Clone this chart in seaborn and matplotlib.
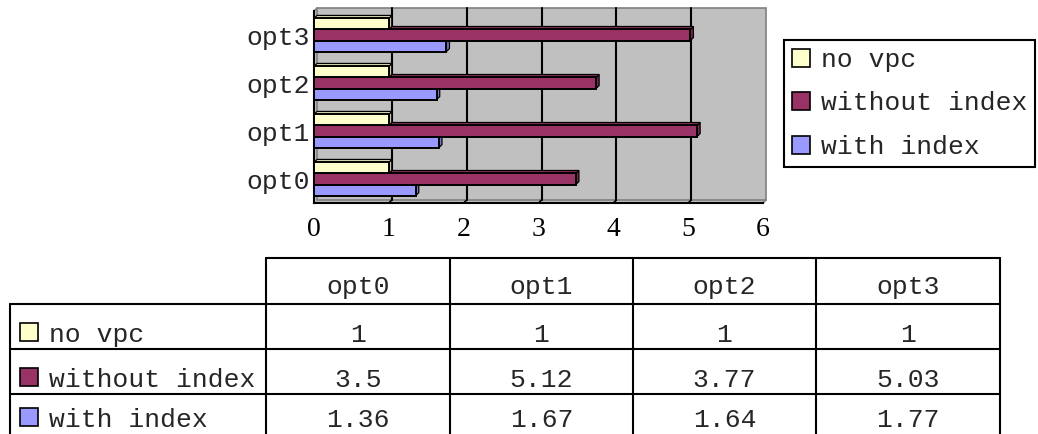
import numpy as np
import pandas as pd
import matplotlib
matplotlib.use("Agg")
import matplotlib.pyplot as plt
import matplotlib.transforms as mtransforms
from matplotlib.patches import Polygon, Patch, Rectangle
from matplotlib.lines import Line2D
import seaborn as sns

# ---- data -------------------------------------------------------------
options = ["opt0", "opt1", "opt2", "opt3"]
series_names = ["no vpc", "without index", "with index"]
no_vpc = [1, 1, 1, 1]
without_index = [3.5, 5.12, 3.77, 5.03]
with_index = [1.36, 1.67, 1.64, 1.77]
x_ticks = [0, 1, 2, 3, 4, 5, 6]

series_values = [no_vpc, without_index, with_index]
series_colors = ["#FFFFCC", "#993366", "#9999FF"]

df = pd.DataFrame({
    "option": options * len(series_names),
    "series": [s for s in series_names for _ in options],
    "value": [v for vals in series_values for v in vals],
})

# ---- style ------------------------------------------------------------
sns.set_style("white")
plt.rcParams["font.family"] = ["Liberation Mono", "DejaVu Sans"]
FONT = 19

W, H = 1038, 434
fig = plt.figure(figsize=(W / 100, H / 100), dpi=100)
ident = mtransforms.IdentityTransform()


def fxy(x, y_top):
    """pixel position measured from the top-left -> figure fraction"""
    return x / W, 1 - y_top / H


# front plane of the 3-D plot box (pixels from top-left)
L, R, TOP, BOT = 314, 763, 11, 203
D = 3  # depth offset in pixels
ax = fig.add_axes([L / W, 1 - BOT / H, (R - L) / W, (BOT - TOP) / H])

sns.barplot(data=df, x="value", y="option", hue="series",
            order=options[::-1], hue_order=series_names,
            palette=series_colors, orient="h", width=0.69, saturation=1,
            edgecolor="black", linewidth=1.4, errorbar=None,
            legend=False, ax=ax)

ax.set_xlim(x_ticks[0], x_ticks[-1])
ax.set_ylim(len(options) - 0.5, -0.5)
ax.set_xlabel("")
ax.set_ylabel("")
ax.patch.set_visible(False)
for side in ("top", "right"):
    ax.spines[side].set_visible(False)
for side in ("left", "bottom"):
    ax.spines[side].set_color("black")
    ax.spines[side].set_linewidth(1.5)
ax.set_xticks(x_ticks)
ax.set_xticklabels([str(t) for t in x_ticks], family="Liberation Serif",
                   fontsize=20)
ax.tick_params(axis="x", direction="out", length=4, width=1.2,
               pad=6, colors="black")
ax.tick_params(axis="y", which="major", length=0, pad=3, labelsize=FONT)
ax.set_yticks(np.arange(-0.5, len(options), 1.0), minor=True)
ax.tick_params(axis="y", which="minor", direction="in", length=3, width=1.2)

# ---- walls of the 3-D box (display pixels, origin bottom-left) -------
Ld, Rd, Td, Bd = L, R, H - TOP, H - BOT
wall = Polygon([(Ld, Bd), (Ld, Td), (Ld + D, Td + D), (Rd + D, Td + D),
                (Rd + D, Bd + D), (Rd, Bd)], closed=True,
               facecolor="#C0C0C0", edgecolor="none", transform=ident,
               zorder=-3)
fig.add_artist(wall)
fig.add_artist(Rectangle((Ld + D, Bd + D), Rd - Ld, Td - Bd, fill=False,
                         edgecolor="#808080", linewidth=1.2,
                         transform=ident, zorder=-2))
for (x0, y0) in [(Ld, Td), (Rd, Bd)]:
    fig.add_artist(Line2D([x0, x0 + D], [y0, y0 + D], color="#808080",
                          linewidth=1.2, transform=ident, zorder=-2))

# gridlines on the back wall and their trace across the floor
for t in x_ticks[1:-1]:
    xp = ax.transData.transform((t, 0))[0]
    fig.add_artist(Line2D([xp + D, xp + D], [Bd + D, Td + D], color="black",
                          linewidth=1.5, transform=ident, zorder=-1))
    fig.add_artist(Line2D([xp, xp + D], [Bd, Bd + D], color="black",
                          linewidth=1.2, transform=ident, zorder=-1))


# ---- 3-D side and top faces of every bar ------------------------------
def shade(rgb, f):
    return tuple(np.array(rgb) * f)


bars = list(ax.patches)
geom = []
for p in bars:
    (x0, y0), (x1, y1) = ax.transData.transform(
        [(p.get_x(), p.get_y()), (p.get_x() + p.get_width(),
                                  p.get_y() + p.get_height())])
    geom.append((p, min(x0, x1), max(x0, x1), min(y0, y1), max(y0, y1)))
# lower bars first so the bar above hides their top faces
geom.sort(key=lambda g: g[3])
for k, (p, l, r, b, t) in enumerate(geom):
    z = 3 + 0.01 * k
    fc = p.get_facecolor()[:3]
    p.set_zorder(z)
    right_face = Polygon([(r, b), (r + D, b + D), (r + D, t + D), (r, t)],
                         closed=True, facecolor=shade(fc, 0.78),
                         edgecolor="black", linewidth=0.9, transform=ident,
                         clip_on=False, zorder=z - 0.005)
    top_face = Polygon([(l, t), (r, t), (r + D, t + D), (l + D, t + D)],
                       closed=True, facecolor=shade(fc, 0.88),
                       edgecolor="black", linewidth=0.9, transform=ident,
                       clip_on=False, zorder=z - 0.005)
    ax.add_artist(right_face)
    ax.add_artist(top_face)

# ---- legend -----------------------------------------------------------
handles = [Patch(facecolor=c, edgecolor="black", linewidth=1.2)
           for c in series_colors]
leg = fig.legend(handles, series_names, loc="upper left",
                 bbox_to_anchor=fxy(784, 40), borderaxespad=0,
                 frameon=True, fancybox=False, framealpha=1,
                 edgecolor="black", prop={"family": "Liberation Mono",
                                          "size": FONT},
                 handlelength=0.68, handleheight=0.68, handletextpad=0.42,
                 borderpad=0.3, labelspacing=0.74)
leg.get_frame().set_linewidth(1.5)

# ---- data table -------------------------------------------------------
col_edges = [10, 266, 450, 633, 816, 1000]
row_edges = [258, 304, 349, 394, 440]
LW = 1.5


def hline(x0, x1, y):
    fig.add_artist(Line2D([x0 / W, x1 / W], [1 - y / H, 1 - y / H],
                          color="black", linewidth=LW,
                          transform=fig.transFigure))


def vline(x, y0, y1):
    fig.add_artist(Line2D([x / W, x / W], [1 - y0 / H, 1 - y1 / H],
                          color="black", linewidth=LW,
                          transform=fig.transFigure))


hline(col_edges[1], col_edges[-1], row_edges[0])
for y in row_edges[1:-1]:
    hline(col_edges[0], col_edges[-1], y)
vline(col_edges[0], row_edges[1], H)
for x in col_edges[1:]:
    vline(x, row_edges[0], H)

for j, opt in enumerate(options):
    cx = (col_edges[j + 1] + col_edges[j + 2]) / 2
    fig.text(*fxy(cx, row_edges[1] - 10), opt, ha="center", va="baseline",
             fontsize=FONT)

baselines = [row_edges[2] - 7, row_edges[3] - 7, 427]
for name, vals, c, base in zip(series_names, series_values, series_colors,
                               baselines):
    fig.add_artist(Rectangle(fxy(20, base - 1), 18 / W, 18 / H,
                             facecolor=c, edgecolor="black", linewidth=1.2,
                             transform=fig.transFigure))
    fig.text(*fxy(49, base), name, ha="left", va="baseline", fontsize=FONT)
    for j, v in enumerate(vals):
        cx = (col_edges[j + 1] + col_edges[j + 2]) / 2
        fig.text(*fxy(cx, base), f"{v:g}", ha="center", va="baseline",
                 fontsize=FONT)

fig.savefig("out.png", dpi=100)
